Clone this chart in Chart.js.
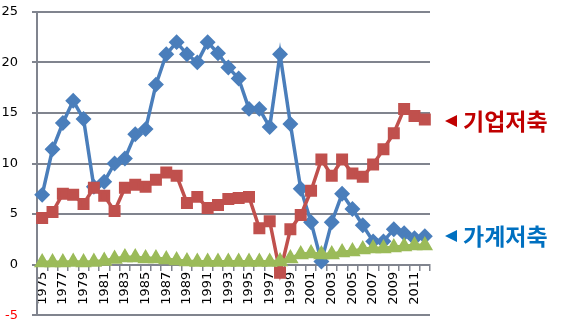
<!DOCTYPE html>
<html lang="ko">
<head>
  <meta charset="UTF-8">
  <title>기업저축 · 가계저축</title>
  <script src="https://cdn.jsdelivr.net/npm/chart.js"></script>
  <style>
    body {
      margin: 0;
      background: #fff;
    }
    .wrap {
      position: relative;
      width: 568px;
      height: 332px;
      overflow: hidden;
    }
    /* the y tick padding keeps ~22px above/below the plot, so the canvas is shifted up */
    .box {
      position: absolute;
      left: 0;
      top: -10px;
      width: 568px;
      height: 347px;
    }
    .note {
      position: absolute;
      left: 445px;
      font-family: 'Noto Sans CJK KR', sans-serif;
      font-weight: bold;
      font-size: 23px;
      line-height: 24px;
      white-space: nowrap;
    }
    .note i {
      display: inline-block;
      width: 0;
      height: 0;
      border-top: 6px solid transparent;
      border-bottom: 6px solid transparent;
      border-right: 12px solid currentColor;
      margin-right: 6px;
      vertical-align: 3px;
    }
  </style>
</head>
<body>

<div class="wrap">
  <div class="box"><canvas id="chart"></canvas></div>
  <div class="note" style="top:108px; color:#C00000;"><i></i>기업저축</div>
  <div class="note" style="top:223px; color:#0070C0;"><i></i>가계저축</div>
</div>

<script>
const years = ['1975','1976','1977','1978','1979','1980','1981','1982','1983','1984',
  '1985','1986','1987','1988','1989','1990','1991','1992','1993','1994',
  '1995','1996','1997','1998','1999','2000','2001','2002','2003','2004',
  '2005','2006','2007','2008','2009','2010','2011','2012'];

// 가계저축
const household = [6.9, 11.4, 14.0, 16.2, 14.4, 7.7, 8.2, 10.0, 10.5, 12.9,
  13.4, 17.8, 20.8, 22.0, 20.8, 20.0, 22.0, 20.9, 19.5, 18.4,
  15.4, 15.4, 13.6, 20.8, 13.9, 7.5, 4.2, 0.3, 4.2, 7.0,
  5.5, 3.9, 2.3, 2.3, 3.5, 3.1, 2.6, 2.8];

// 기업저축
const corporate = [4.6, 5.2, 7.0, 6.9, 6.0, 7.6, 6.8, 5.3, 7.6, 7.9,
  7.7, 8.4, 9.1, 8.8, 6.1, 6.7, 5.6, 5.9, 6.5, 6.6,
  6.7, 3.6, 4.3, -0.8, 3.5, 4.9, 7.3, 10.4, 8.8, 10.4,
  9.0, 8.7, 9.9, 11.4, 13.0, 15.4, 14.7, 14.35];

// 세 번째 계열 (초록)
const third = [0.2, 0.2, 0.2, 0.25, 0.2, 0.25, 0.35, 0.55, 0.7, 0.7,
  0.6, 0.6, 0.5, 0.4, 0.3, 0.25, 0.25, 0.25, 0.25, 0.25,
  0.25, 0.25, 0.25, 0.3, 0.6, 1.0, 1.1, 1.0, 1.0, 1.2,
  1.3, 1.5, 1.6, 1.6, 1.7, 1.8, 1.9, 1.9];

const yMin = -5, yMax = 25, yStep = 5;
const gridGray = 'rgb(128,132,142)';

Chart.defaults.font.family = "'DejaVu Sans', sans-serif";
Chart.defaults.color = '#000';

new Chart(document.getElementById('chart'), {
  type: 'line',
  data: {
    labels: years,
    datasets: [
      {
        label: '가계저축',
        data: household,
        borderColor: '#4A7EBB',
        backgroundColor: '#4A7EBB',
        borderWidth: 3.5,
        pointStyle: 'rectRot',
        pointRadius: 5.5,
        tension: 0,
        order: 3
      },
      {
        label: '기업저축',
        data: corporate,
        borderColor: '#C0504D',
        backgroundColor: '#C0504D',
        borderWidth: 3.5,
        pointStyle: 'rect',
        pointRadius: 6,
        tension: 0,
        order: 2
      },
      {
        label: '기타',
        data: third,
        borderColor: '#9BBB59',
        backgroundColor: '#9BBB59',
        borderWidth: 4,
        pointStyle: 'triangle',
        pointRadius: 5.5,
        tension: 0,
        order: 1
      }
    ]
  },
  options: {
    responsive: true,
    maintainAspectRatio: false,
    animation: false,
    layout: {
      padding: { top: 0, right: 138, bottom: 0, left: 0 }
    },
    plugins: {
      legend: { display: false }
    },
    scales: {
      x: {
        position: { y: 0 },
        offset: true,
        grid: {
          offset: true,
          drawOnChartArea: false,
          tickLength: 5,
          color: gridGray,
          lineWidth: 1.5
        },
        border: { display: true, color: gridGray, width: 2 },
        ticks: {
          autoSkip: false,
          minRotation: 90,
          maxRotation: 90,
          padding: 2,
          font: { size: 13 },
          callback: function (value, index) {
            return index % 2 === 0 ? this.getLabelForValue(value) : '';
          }
        }
      },
      y: {
        min: yMin,
        max: yMax,
        afterFit: axis => { axis.width = 37; },
        grid: {
          color: gridGray,
          lineWidth: 2,
          tickLength: 5
        },
        border: { display: true, color: gridGray, width: 2 },
        ticks: {
          stepSize: yStep,
          padding: 14,
          font: { size: 13 },
          color: ctx => (ctx.tick && ctx.tick.value < 0) ? '#FF0000' : '#000'
        }
      }
    }
  }
});
</script>

</body>
</html>
